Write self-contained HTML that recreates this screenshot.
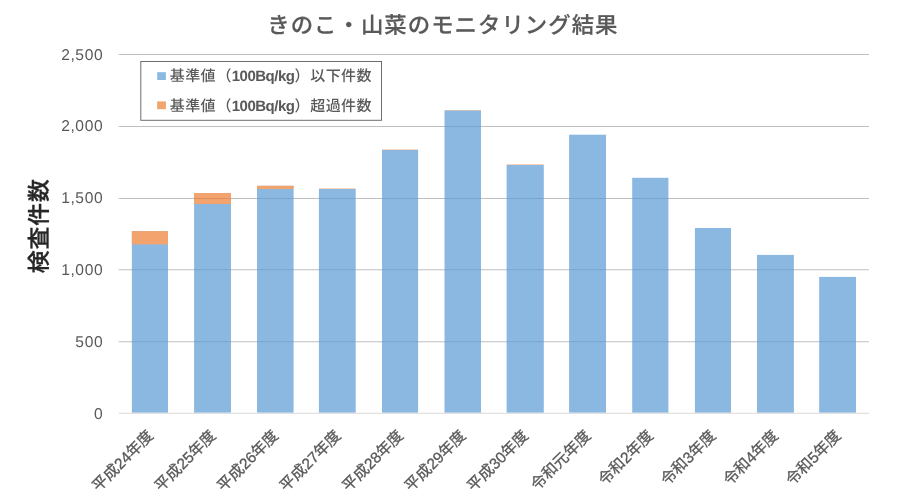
<!DOCTYPE html>
<html lang="ja">
<head>
<meta charset="utf-8">
<title>きのこ・山菜のモニタリング結果</title>
<style>
html,body{margin:0;padding:0;background:#fff;}
body{width:900px;height:500px;overflow:hidden;}
svg{display:block;}
text{font-family:"Liberation Sans","Noto Sans CJK JP",sans-serif;text-rendering:geometricPrecision;}
.title{font-size:22.4px;font-weight:500;fill:#595959;stroke:#595959;stroke-width:0.2px;letter-spacing:1.02px;}
.yl{font-size:15.6px;fill:#595959;text-anchor:end;letter-spacing:0.6px;}
.xl{font-size:15.4px;font-weight:400;fill:#595959;stroke:#595959;stroke-width:0.3px;text-anchor:end;}
.lg{font-family:"Liberation Sans","Noto Sans CJK JP Medium","Noto Sans CJK JP",sans-serif;font-synthesis:none;font-size:15px;font-weight:700;fill:#595959;}
.yt{font-size:22.8px;font-weight:500;fill:#262626;stroke:#262626;stroke-width:0.35px;text-anchor:middle;letter-spacing:0.9px;}
</style>
</head>
<body>
<svg width="900" height="500" viewBox="0 0 900 500">
<rect x="0" y="0" width="900" height="500" fill="#ffffff"/>

<g stroke="#bfbfbf" stroke-width="1" fill="none">
<line x1="118.60" y1="341.75" x2="868.90" y2="341.75"/>
<line x1="118.60" y1="269.75" x2="868.90" y2="269.75"/>
<line x1="118.60" y1="198.50" x2="868.90" y2="198.50"/>
<line x1="118.60" y1="126.50" x2="868.90" y2="126.50"/>
<line x1="118.60" y1="54.50" x2="868.90" y2="54.50"/>
</g>
<g opacity="0.7">
<rect x="131.85" y="231.10" width="36.15" height="181.65" fill="#5b9bd5"/>
<rect x="131.85" y="231.10" width="36.15" height="13.30" fill="#ed7d31"/>
<rect x="194.10" y="193.00" width="36.90" height="219.75" fill="#5b9bd5"/>
<rect x="194.10" y="193.00" width="36.90" height="11.00" fill="#ed7d31"/>
<rect x="257.00" y="185.80" width="36.60" height="226.95" fill="#5b9bd5"/>
<rect x="257.00" y="185.80" width="36.60" height="3.20" fill="#ed7d31"/>
<rect x="318.90" y="189.00" width="36.80" height="223.75" fill="#5b9bd5"/>
<rect x="318.90" y="188.55" width="36.80" height="0.45" fill="#ed7d31"/>
<rect x="382.00" y="150.00" width="36.10" height="262.75" fill="#5b9bd5"/>
<rect x="382.00" y="149.55" width="36.10" height="0.45" fill="#ed7d31"/>
<rect x="444.50" y="110.35" width="36.50" height="302.40" fill="#5b9bd5"/>
<rect x="444.50" y="110.00" width="36.50" height="0.35" fill="#ed7d31"/>
<rect x="506.60" y="165.00" width="37.20" height="247.75" fill="#5b9bd5"/>
<rect x="506.60" y="164.50" width="37.20" height="0.50" fill="#ed7d31"/>
<rect x="569.10" y="134.70" width="36.90" height="278.05" fill="#5b9bd5"/>
<rect x="632.20" y="177.80" width="36.20" height="234.95" fill="#5b9bd5"/>
<rect x="694.90" y="228.00" width="36.10" height="184.75" fill="#5b9bd5"/>
<rect x="757.00" y="254.90" width="36.90" height="157.85" fill="#5b9bd5"/>
<rect x="819.20" y="276.90" width="36.80" height="135.85" fill="#5b9bd5"/>
</g>
<line x1="118.90" y1="413.25" x2="868.90" y2="413.25" stroke="#d9d9d9" stroke-width="1"/>
<text class="title" x="267.3" y="32.8">きのこ・山菜のモニタリング結果</text>
<text class="yl" x="103.2" y="419">0</text>
<text class="yl" x="103.2" y="347">500</text>
<text class="yl" x="103.2" y="275">1,000</text>
<text class="yl" x="103.2" y="203">1,500</text>
<text class="yl" x="103.2" y="131">2,000</text>
<text class="yl" x="103.2" y="60">2,500</text>
<text class="yt" transform="translate(47.0,225.8) rotate(-90)">検査件数</text>
<text class="xl" transform="translate(154.25,436.50) rotate(-45)">平成24年度</text>
<text class="xl" transform="translate(216.75,436.50) rotate(-45)">平成25年度</text>
<text class="xl" transform="translate(279.25,436.50) rotate(-45)">平成26年度</text>
<text class="xl" transform="translate(341.75,436.50) rotate(-45)">平成27年度</text>
<text class="xl" transform="translate(404.25,436.50) rotate(-45)">平成28年度</text>
<text class="xl" transform="translate(466.75,436.50) rotate(-45)">平成29年度</text>
<text class="xl" transform="translate(529.25,436.50) rotate(-45)">平成30年度</text>
<text class="xl" transform="translate(591.75,436.50) rotate(-45)">令和元年度</text>
<text class="xl" transform="translate(654.25,436.50) rotate(-45)">令和2年度</text>
<text class="xl" transform="translate(716.75,436.50) rotate(-45)">令和3年度</text>
<text class="xl" transform="translate(779.25,436.50) rotate(-45)">令和4年度</text>
<text class="xl" transform="translate(841.75,436.50) rotate(-45)">令和5年度</text>
<rect x="140.8" y="61.5" width="240.7" height="58.8" fill="#ffffff" stroke="#6e6e6e" stroke-width="1"/>
<rect x="157.2" y="72.2" width="8.7" height="7.8" fill="#5b9bd5" fill-opacity="0.7"/>
<rect x="157.2" y="101.4" width="8.7" height="7.8" fill="#ed7d31" fill-opacity="0.7"/>
<text class="lg" x="169.80 185.20 200.60 216.60 231.75 239.58 247.42 255.17 265.40 274.16 277.95 285.76 294.50 310.30 325.70 341.10 356.50" y="81.3">基準値（100Bq/kg）以下件数</text>
<text class="lg" x="169.80 185.20 200.60 216.60 231.75 239.58 247.42 255.17 265.40 274.16 277.95 285.76 294.50 310.30 325.70 341.10 356.50" y="110.5">基準値（100Bq/kg）超過件数</text>
</svg>
</body>
</html>
